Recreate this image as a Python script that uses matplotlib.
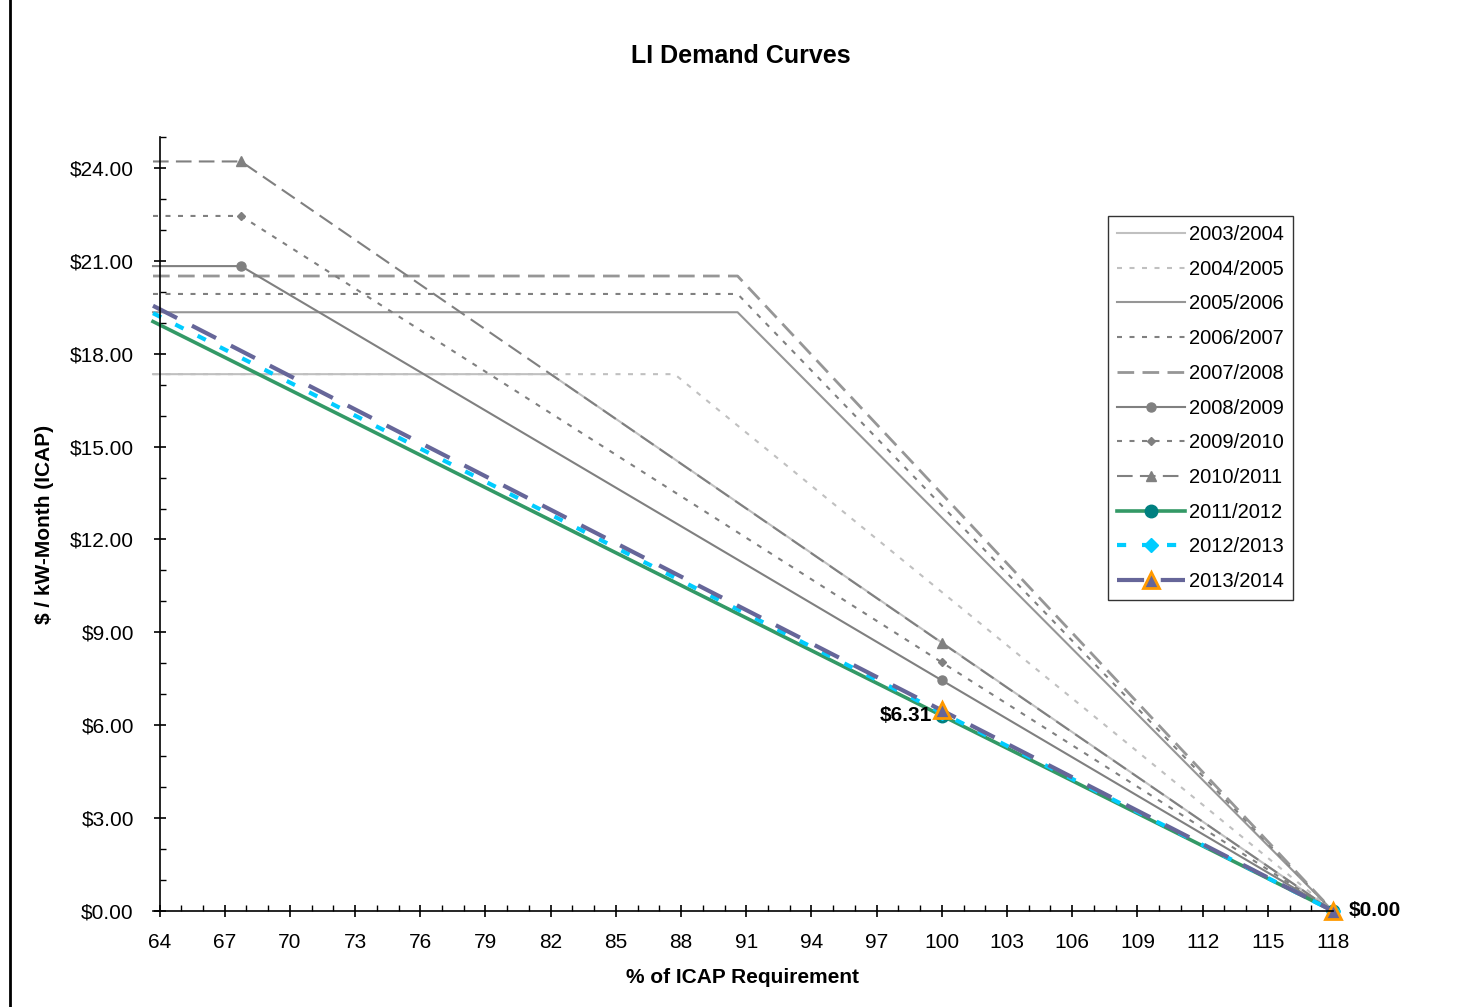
import numpy as np
import matplotlib.pyplot as plt
from matplotlib.ticker import MultipleLocator, FuncFormatter
from matplotlib.lines import Line2D

plt.rcParams['font.family'] = ['Liberation Sans', 'DejaVu Sans']

# curve points: (% of ICAP requirement, $/kW-month)
x_start = 63.7
years = ['2003/2004', '2004/2005', '2005/2006', '2006/2007', '2007/2008',
         '2008/2009', '2009/2010', '2010/2011', '2011/2012', '2012/2013', '2013/2014']

x_0304 = [x_start, 82.0, 118]
y_0304 = [17.34, 17.34, 0.0]
x_0405 = [x_start, 87.7, 118]
y_0405 = [17.34, 17.34, 0.0]
x_0506 = [x_start, 90.6, 118]
y_0506 = [19.34, 19.34, 0.0]
x_0607 = [x_start, 90.6, 118]
y_0607 = [19.93, 19.93, 0.0]
x_0708 = [x_start, 90.6, 118]
y_0708 = [20.51, 20.51, 0.0]
x_0809 = [x_start, 67.75, 100, 118]
y_0809 = [20.83, 20.83, 7.45, 0.0]
x_0910 = [x_start, 67.75, 100, 118]
y_0910 = [22.45, 22.45, 8.03, 0.0]
x_1011 = [x_start, 67.75, 100, 118]
y_1011 = [24.21, 24.21, 8.66, 0.0]
x_1112 = [x_start, 100, 118]
y_1112 = [19.04, 6.31, 0.0]
x_1213 = [x_start, 100, 118]
y_1213 = [19.31, 6.40, 0.0]
x_1314 = [x_start, 100, 118]
y_1314 = [19.55, 6.48, 0.0]

fig = plt.figure(figsize=(14.58, 10.07), dpi=100)
ax = fig.add_axes([153/1458, 96/1007, 1180/1458, 774/1007])

ax.plot(x_0304, y_0304, color='#C0C0C0', lw=1.5, label=years[0], clip_on=False)
ax.plot(x_0405, y_0405, color='#C0C0C0', lw=1.5, ls=(0, (2.4, 3.6)), label=years[1], clip_on=False)
ax.plot(x_0506, y_0506, color='#969696', lw=1.5, label=years[2], clip_on=False)
ax.plot(x_0607, y_0607, color='#808080', lw=1.5, ls=(0, (2.4, 3.6)), label=years[3], clip_on=False)
ax.plot(x_0708, y_0708, color='#969696', lw=2, ls=(0, (6, 3)), label=years[4], clip_on=False)
ax.plot(x_0809, y_0809, color='#808080', lw=1.5, marker='o', ms=6.5, markevery=[1, 2, 3],
        label=years[5], clip_on=False)
ax.plot(x_0910, y_0910, color='#808080', lw=1.5, ls=(0, (2.4, 3.6)), marker='D', ms=4.5,
        markevery=[1, 2, 3], label=years[6], clip_on=False)
ax.plot(x_1011, y_1011, color='#808080', lw=1.5, ls=(0, (7.5, 3.5)), marker='^', ms=6.5,
        markevery=[1, 2, 3], label=years[7], clip_on=False)
ax.plot(x_1112, y_1112, color='#339966', lw=2.6, marker='o', ms=9, mfc='#008080', mec='#008080',
        markevery=[1, 2], label=years[8], clip_on=False)
ax.plot(x_1213, y_1213, color='#00CCFF', lw=3, ls=(0, (2.2, 3.8)), marker='D', ms=7,
        mfc='#00CCFF', mec='#00CCFF', markevery=[1, 2], label=years[9], clip_on=False)
ax.plot(x_1314, y_1314, color='#666699', lw=3, ls=(0, (6.5, 4)), marker='^', ms=11,
        mfc='#666699', mec='#FF9900', mew=2, markevery=[1, 2], label=years[10], clip_on=False)

ax.annotate('$%.2f' % y_1112[1], (x_1112[1], y_1112[1]), xytext=(-7, 0), textcoords='offset points',
            ha='right', va='center', fontsize=15, fontweight='bold')
ax.annotate('$%.2f' % y_1112[2], (x_1112[2], y_1112[2]), xytext=(11, 0), textcoords='offset points',
            ha='left', va='center', fontsize=15, fontweight='bold')

ax.set_xlim(x_start, 118)
ax.set_ylim(0, 25)
ax.spines['left'].set_position(('data', 64))
ax.spines['top'].set_visible(False)
ax.spines['right'].set_visible(False)
ax.spines['left'].set_linewidth(1.2)
ax.spines['bottom'].set_linewidth(1.2)

ax.set_xticks(np.arange(64, 119, 3))
ax.xaxis.set_minor_locator(MultipleLocator(1))
ax.yaxis.set_major_locator(MultipleLocator(3))
ax.yaxis.set_minor_locator(MultipleLocator(1))
ax.yaxis.set_major_formatter(FuncFormatter(lambda v, p: '$%.2f' % v))
ax.tick_params(which='major', direction='inout', length=9, width=1.2, labelsize=15)
ax.tick_params(which='minor', direction='in', length=4.5, width=1.0)
ax.tick_params(axis='x', which='major', pad=11)
ax.tick_params(axis='y', which='major', pad=14)

ax.set_xlabel('% of ICAP Requirement', fontsize=15, fontweight='bold', labelpad=12)
ax.set_ylabel('$ / kW-Month (ICAP)', fontsize=15, fontweight='bold', labelpad=11)
fig.text(741/1458, 1 - 56/1007, 'LI Demand Curves', ha='center', va='center',
         fontsize=18, fontweight='bold')

leg = ax.legend(loc='upper right', bbox_to_anchor=(1293/1458, 1 - 216/1007),
                bbox_transform=fig.transFigure, fontsize=14.5, frameon=True, fancybox=False,
                handlelength=3.4, labelspacing=0.78, borderaxespad=0, borderpad=0.45,
                handletextpad=0.2)
leg.get_frame().set_edgecolor('black')
leg.get_frame().set_linewidth(1.0)

# chart border line on the left edge
fig.add_artist(Line2D([10/1458, 10/1458], [0, 1], color='black', lw=2, transform=fig.transFigure))

fig.savefig('out.png', dpi=100)
